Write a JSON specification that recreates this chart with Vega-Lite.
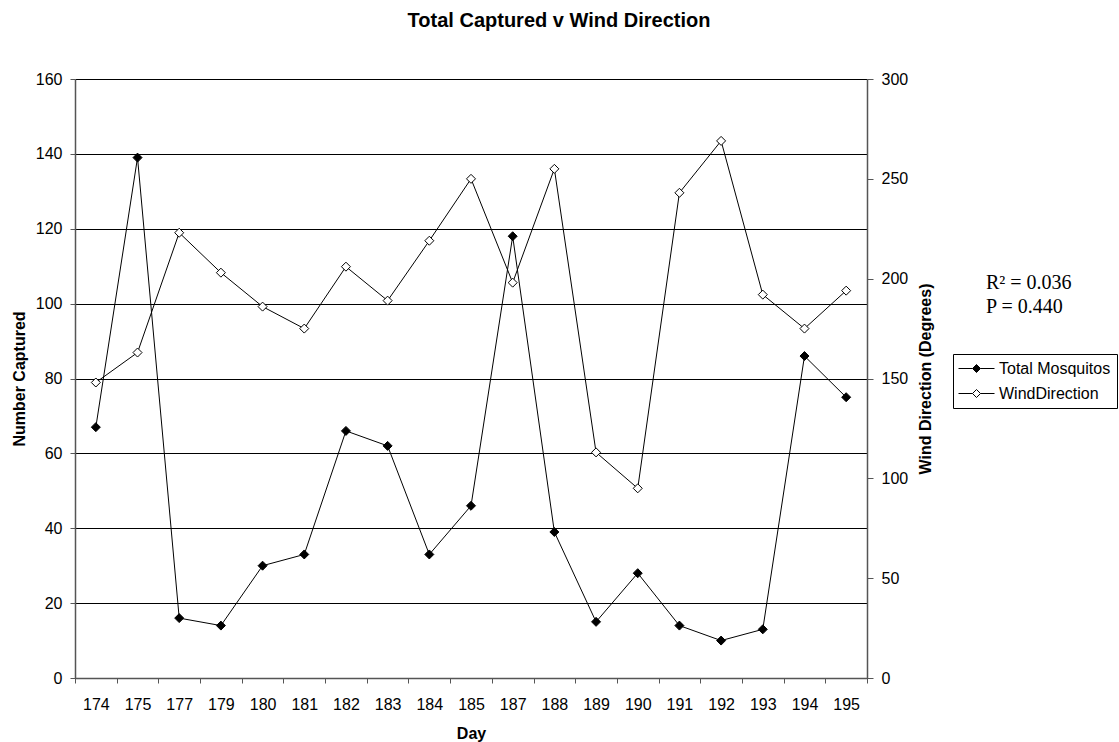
{
  "$schema": "https://vega.github.io/schema/vega-lite/v6.json",
  "width": 792,
  "height": 599,
  "autosize": {"type": "none"},
  "padding": {"left": 75, "top": 79, "right": 252, "bottom": 64},
  "title": {
    "text": "Total Captured v Wind Direction",
    "font": "Liberation Sans",
    "fontSize": 20,
    "fontWeight": "bold",
    "color": "black",
    "anchor": "middle",
    "dx": 88,
    "offset": 40
  },
  "data": {
    "values": [
      {"day": 174, "mosquitos": 67, "wind": 148},
      {"day": 175, "mosquitos": 139, "wind": 163},
      {"day": 177, "mosquitos": 16, "wind": 223},
      {"day": 179, "mosquitos": 14, "wind": 203},
      {"day": 180, "mosquitos": 30, "wind": 186},
      {"day": 181, "mosquitos": 33, "wind": 175},
      {"day": 182, "mosquitos": 66, "wind": 206},
      {"day": 183, "mosquitos": 62, "wind": 189},
      {"day": 184, "mosquitos": 33, "wind": 219},
      {"day": 185, "mosquitos": 46, "wind": 250},
      {"day": 187, "mosquitos": 118, "wind": 198},
      {"day": 188, "mosquitos": 39, "wind": 255},
      {"day": 189, "mosquitos": 15, "wind": 113},
      {"day": 190, "mosquitos": 28, "wind": 95},
      {"day": 191, "mosquitos": 14, "wind": 243},
      {"day": 192, "mosquitos": 10, "wind": 269},
      {"day": 193, "mosquitos": 13, "wind": 192},
      {"day": 194, "mosquitos": 86, "wind": 175},
      {"day": 195, "mosquitos": 75, "wind": 194}
    ]
  },
  "encoding": {
    "x": {
      "field": "day",
      "type": "ordinal",
      "title": "Day",
      "scale": {"type": "band", "paddingInner": 0, "paddingOuter": 0},
      "axis": {
        "labelAngle": 0,
        "tickBand": "extent",
        "tickSize": 5,
        "labelPadding": 13,
        "titlePadding": 13,
        "labelOverlap": false
      }
    }
  },
  "layer": [
    {
      "encoding": {
        "y": {
          "field": "mosquitos",
          "type": "quantitative",
          "title": "Number Captured",
          "scale": {"domain": [0, 160], "nice": false, "zero": true},
          "axis": {
            "orient": "left",
            "values": [0, 20, 40, 60, 80, 100, 120, 140, 160],
            "grid": true,
            "gridColor": "black",
            "gridOpacity": 1,
            "gridWidth": 1,
            "tickSize": 5,
            "labelPadding": 8,
            "titlePadding": 8
          }
        }
      },
      "layer": [
        {"mark": {"type": "line", "color": "black", "strokeWidth": 1}},
        {
          "mark": {"type": "point", "shape": "diamond", "filled": true, "size": 81, "stroke": "black", "strokeWidth": 1, "opacity": 1},
          "encoding": {
            "fill": {
              "datum": "Total Mosquitos",
              "type": "nominal",
              "scale": {"domain": ["Total Mosquitos", "WindDirection"], "range": ["black", "white"]},
              "legend": {
                "title": null,
                "orient": "none",
                "legendX": 878,
                "legendY": 275,
                "strokeColor": "black",
                "fillColor": "white",
                "padding": 6,
                "rowPadding": 8,
                "symbolType": "M-1.125,0H0.625M1.625,0H3.375M0.625,0L1.125,-0.5L1.625,0L1.125,0.5Z",
                "symbolSize": 256,
                "symbolStrokeColor": "black",
                "symbolStrokeWidth": 1,
                "symbolOpacity": 1,
                "labelOffset": 23,
                "labelFont": "Liberation Sans",
                "labelFontSize": 16,
                "labelColor": "black",
                "labelLimit": 300
              }
            }
          }
        }
      ]
    },
    {
      "encoding": {
        "y": {
          "field": "wind",
          "type": "quantitative",
          "title": "Wind Direction (Degrees)",
          "scale": {"domain": [0, 300], "nice": false, "zero": true},
          "axis": {
            "orient": "right",
            "values": [0, 50, 100, 150, 200, 250, 300],
            "grid": false,
            "tickSize": 6,
            "labelPadding": 8,
            "titlePadding": 10,
            "titleAngle": -90,
            "titleBaseline": "top"
          }
        }
      },
      "layer": [
        {"mark": {"type": "line", "color": "black", "strokeWidth": 1}},
        {
          "mark": {"type": "point", "shape": "diamond", "filled": true, "size": 81, "stroke": "black", "strokeWidth": 1, "opacity": 1},
          "encoding": {
            "fill": {"datum": "WindDirection", "type": "nominal"}
          }
        }
      ]
    },
    {
      "data": {
        "values": [
          {"stat": "R² = 0.036"},
          {"stat": "P = 0.440"}
        ]
      },
      "mark": {"type": "point", "opacity": 0, "size": 1},
      "encoding": {
        "x": null,
        "shape": {
          "field": "stat",
          "type": "nominal",
          "sort": ["R² = 0.036", "P = 0.440"],
          "legend": {
            "title": null,
            "orient": "none",
            "legendX": 891,
            "legendY": 194,
            "padding": 0,
            "rowPadding": 4,
            "symbolSize": 1,
            "symbolOpacity": 0,
            "symbolStrokeWidth": 0,
            "labelOffset": 0,
            "labelFont": "Liberation Serif",
            "labelFontSize": 20,
            "labelColor": "black",
            "labelLimit": 300
          }
        }
      }
    }
  ],
  "resolve": {"scale": {"y": "independent"}},
  "config": {
    "font": "Liberation Sans",
    "view": {"stroke": null},
    "axis": {
      "labelFont": "Liberation Sans",
      "labelFontSize": 16,
      "labelColor": "black",
      "titleFont": "Liberation Sans",
      "titleFontSize": 16,
      "titleFontWeight": "bold",
      "titleColor": "black",
      "domainColor": "#555555",
      "tickColor": "#555555",
      "domainWidth": 1.5,
      "grid": false
    }
  }
}
